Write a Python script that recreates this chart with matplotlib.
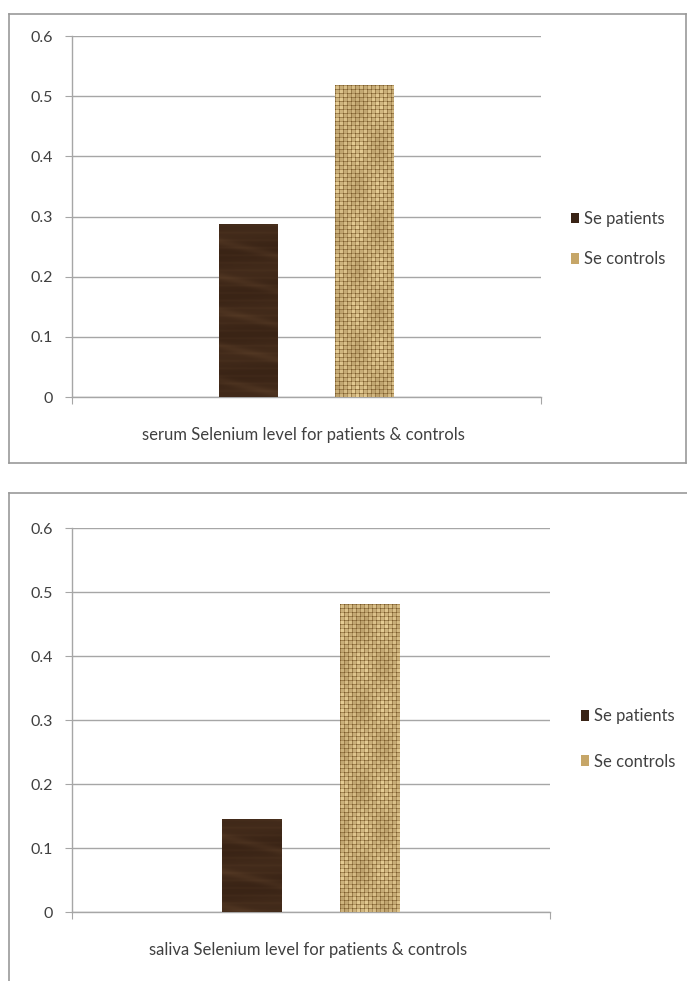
import numpy as np
import matplotlib
matplotlib.use("Agg")
import matplotlib.pyplot as plt
from matplotlib.patches import Patch
from matplotlib.lines import Line2D

plt.rcParams['font.family'] = ['Lato', 'DejaVu Sans']

# selenium levels (patients, controls) for each sample type
groups = ["serum", "saliva"]
series = ["Se patients", "Se controls"]
serum_values = [0.287, 0.518]
saliva_values = [0.145, 0.481]
category_labels = ["serum Selenium level for patients & controls",
                   "saliva Selenium level for patients & controls"]
yticks = [0, 0.1, 0.2, 0.3, 0.4, 0.5, 0.6]

W, H = 687, 981
fig = plt.figure(figsize=(W / 100, H / 100), dpi=100)

GRID = "#a6a6a6"
TXT = "#404040"
BOX = "#9a9a9a"
WOOD_DARK = np.array([0x30, 0x1c, 0x10]) / 255
WOOD_LIGHT = np.array([0x62, 0x44, 0x2c]) / 255
JUTE_DARK = np.array([0x7a, 0x5a, 0x2a]) / 255
JUTE_LIGHT = np.array([0xe6, 0xcd, 0x95]) / 255
WOOD_SWATCH = np.array([0x3a, 0x24, 0x16]) / 255
JUTE_SWATCH = np.array([0xc6, 0xa6, 0x68]) / 255


def wood_texture(h, w):
    yy, xx = np.mgrid[0:h, 0:w].astype(float)
    t = (0.28 + 0.08 * np.sin(yy / 6.5 + xx / 60.0)
         + 0.10 * np.sin(yy / 2.4 + 1.3) ** 8
         + 0.22 * np.sin(yy / 11.0 - xx / 45.0) ** 16)
    t = np.clip(t, 0, 1)[..., None]
    return WOOD_DARK + (WOOD_LIGHT - WOOD_DARK) * t


def jute_texture(h, w, step=4):
    yy, xx = np.mgrid[0:h, 0:w]
    on_x = (xx % step) != 0
    on_y = (yy % step) != 0
    t = np.where(on_x & on_y, 1.0, np.where(on_x | on_y, 0.55, 0.05))
    over = ((xx // step) + (yy // step)) % 2
    t = t - 0.18 * over
    t = t * (0.88 + 0.12 * np.sin(yy / 13.0) * np.cos(xx / 7.0))
    t = np.clip(t, 0, 1)[..., None]
    return JUTE_DARK + (JUTE_LIGHT - JUTE_DARK) * t


def frame_line(x0, y0, x1, y1):
    fig.add_artist(Line2D([x0 / W, x1 / W], [1 - y0 / H, 1 - y1 / H],
                          transform=fig.transFigure, color=BOX, lw=1.2))


def draw_panel(rect_px, values, label, legend_px, spacing):
    left, top, right, bottom = rect_px
    ax = fig.add_axes([left / W, 1 - bottom / H, (right - left) / W, (bottom - top) / H])
    ax.set_xlim(-0.5, 0.5)
    ax.set_ylim(0, 0.6)

    offsets = [-0.124, 0.124]
    bars = ax.bar(offsets, values, width=0.125,
                  color=[WOOD_SWATCH, JUTE_SWATCH], zorder=3)

    # paint a texture inside each bar, clipped to the bar shape
    for bar, tex in zip(bars, [wood_texture, jute_texture]):
        x0, y0 = bar.get_x(), bar.get_y()
        x1, y1 = x0 + bar.get_width(), y0 + bar.get_height()
        (px0, py0), (px1, py1) = ax.transData.transform([(x0, y0), (x1, y1)])
        img = tex(int(abs(py1 - py0)) + 1, int(abs(px1 - px0)) + 1)
        im = ax.imshow(img, extent=[x0, x1, y0, y1], aspect='auto',
                       origin='upper', interpolation='bilinear', zorder=4)
        im.set_clip_path(bar)

    ax.set_yticks(yticks)
    ax.set_yticklabels(["0" if v == 0 else f"{v:.1f}" for v in yticks])
    ax.set_xticks([-0.5, 0.5])
    ax.set_xticklabels(["", ""])
    ax.yaxis.grid(True, color=GRID, lw=1.0, zorder=0)
    ax.set_axisbelow(True)
    for s in ["top", "right"]:
        ax.spines[s].set_visible(False)
    for s in ["left", "bottom"]:
        ax.spines[s].set_color(GRID)
        ax.spines[s].set_linewidth(1.0)
    ax.tick_params(axis='y', length=5, color=GRID, labelcolor=TXT,
                   labelsize=11.5, pad=9)
    ax.tick_params(axis='x', length=5, color=GRID)

    fig.text(((left + right) / 2 - 3) / W, 1 - (bottom + 38) / H, label,
             ha='center', va='center', fontsize=12, color=TXT)

    handles = [Patch(facecolor=WOOD_SWATCH, edgecolor='none'),
               Patch(facecolor=JUTE_SWATCH, edgecolor='none')]
    lx, ly = legend_px
    fig.legend(handles, series, loc='center left',
               bbox_to_anchor=(lx / W, 1 - ly / H), frameon=False,
               fontsize=12, labelcolor=TXT, handlelength=0.45,
               handleheight=0.6, handletextpad=0.35, labelspacing=spacing,
               borderpad=0, borderaxespad=0)
    return ax


# upper chart with its full frame
draw_panel((72, 36, 541, 397), serum_values, category_labels[0], (571, 239), 1.45)
frame_line(9, 14, 686, 14)
frame_line(9, 14, 9, 463)
frame_line(9, 463, 686, 463)
frame_line(686, 14, 686, 463)

# lower chart, frame cut off on the right and bottom
draw_panel((72, 528, 550, 912), saliva_values, category_labels[1], (581, 739), 1.75)
frame_line(9, 493, 687, 493)
frame_line(9, 493, 9, 981)

fig.savefig("out.png", dpi=100)
